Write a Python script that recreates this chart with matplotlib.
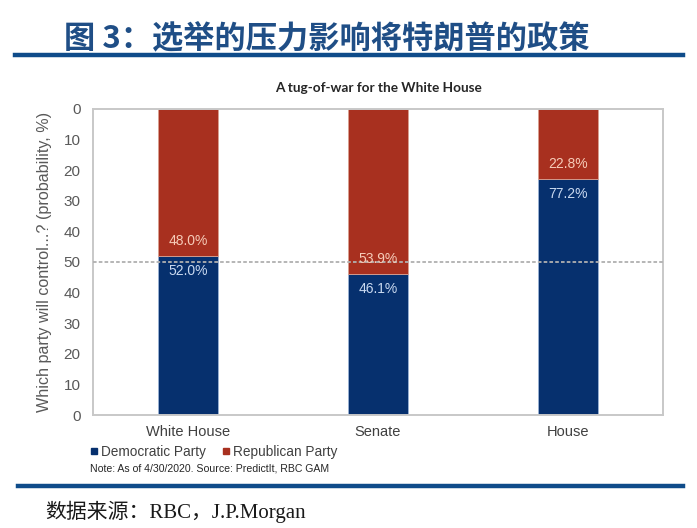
import matplotlib

matplotlib.use("Agg")
import matplotlib.pyplot as plt  # noqa: E402
from matplotlib.lines import Line2D  # noqa: E402

plt.rcParams["font.family"] = ["Liberation Sans", "DejaVu Sans"]

# data
categories = ["White House", "Senate", "House"]
democratic = [52.0, 46.1, 77.2]
republican = [48.0, 53.9, 22.8]
tick_values = [0, 10, 20, 30, 40, 50, 60, 70, 80, 90, 100]
tick_labels = ["0", "10", "20", "30", "40", "50", "40", "30", "20", "10", "0"]

BLUE = "#06306e"
RED = "#a8301f"
GRAY = "#595959"

fig = plt.figure(figsize=(6.97, 5.28), dpi=100)
ax = fig.add_axes([0.1334, 0.214, 0.8176, 0.5796])

x = range(len(categories))
ax.bar(x, democratic, width=0.315, color=BLUE, edgecolor="#9bb3d6", linewidth=0.6, zorder=2)
ax.bar(x, republican, width=0.315, bottom=democratic, color=RED, edgecolor="#d9a090",
       linewidth=0.6, zorder=2)
ax.axhline(50, color="#b0b0b0", linestyle=(0, (2, 1.2)), linewidth=1.3, zorder=3)

for i, (d, r) in enumerate(zip(democratic, republican)):
    ax.annotate(f"{d:.1f}%", (i, d), xytext=(0, -11), textcoords="offset points",
                ha="center", va="center", color="#c9d9f0", fontsize=10, zorder=4)
    ax.annotate(f"{r:.1f}%", (i, d), xytext=(0, 10.5), textcoords="offset points",
                ha="center", va="center", color="#f6cbb8", fontsize=10, zorder=4)

ax.set_xlim(-0.5, len(categories) - 0.5)
ax.set_ylim(0, 100)
ax.set_yticks(tick_values)
ax.set_yticklabels(tick_labels)
ax.set_xticks(list(x))
ax.set_xticklabels(categories)
ax.tick_params(axis="y", length=0, pad=9, labelsize=11, labelcolor=GRAY)
ax.tick_params(axis="x", length=0, pad=7, labelsize=10.5, labelcolor="#404040")
for spine in ax.spines.values():
    spine.set_color("#c8c8c8")
    spine.set_linewidth(1.4)
ax.set_ylabel("Which party will control...? (probability, %)", fontsize=11.6,
              color=GRAY, labelpad=8)

fig.text(0.543, 0.833, "A tug-of-war for the White House", ha="center", va="center",
         fontsize=9.8, fontweight="bold", color="#262626", family=["Lato", "DejaVu Sans"])

handles = [Line2D([], [], marker="s", linestyle="none", markersize=5, color=BLUE),
           Line2D([], [], marker="s", linestyle="none", markersize=5, color=RED)]
fig.legend(handles, ["Democratic Party", "Republican Party"], loc="center left",
           bbox_to_anchor=(0.108, 0.144), ncol=2, frameon=False, fontsize=9.8,
           handletextpad=0.0, columnspacing=1.0, handlelength=1.0, labelcolor="#404040")
fig.text(0.129, 0.113, "Note: As of 4/30/2020. Source: PredictIt, RBC GAM", ha="left",
         va="center", fontsize=7.6, color="#262626")

# report frame: heading, rules, source line
fig.text(0.092, 0.928, "图 3：选举的压力影响将特朗普的政策", ha="left", va="center",
         fontsize=22.5, fontweight="bold", color="#1f4e86",
         family=["Noto Sans CJK SC", "DejaVu Sans"])
fig.add_artist(Line2D([0.022, 0.98], [0.896, 0.896], color="#0f4c8a", linewidth=3.2))
fig.add_artist(Line2D([0.026, 0.98], [0.08, 0.08], color="#0f4c8a", linewidth=3.2))
fig.text(0.065, 0.03, "数据来源：RBC，J.P.Morgan", ha="left", va="center",
         fontsize=15, color="#1a1a1a", family=["Liberation Serif", "Noto Sans CJK SC"])

fig.savefig("out.png", dpi=100)
